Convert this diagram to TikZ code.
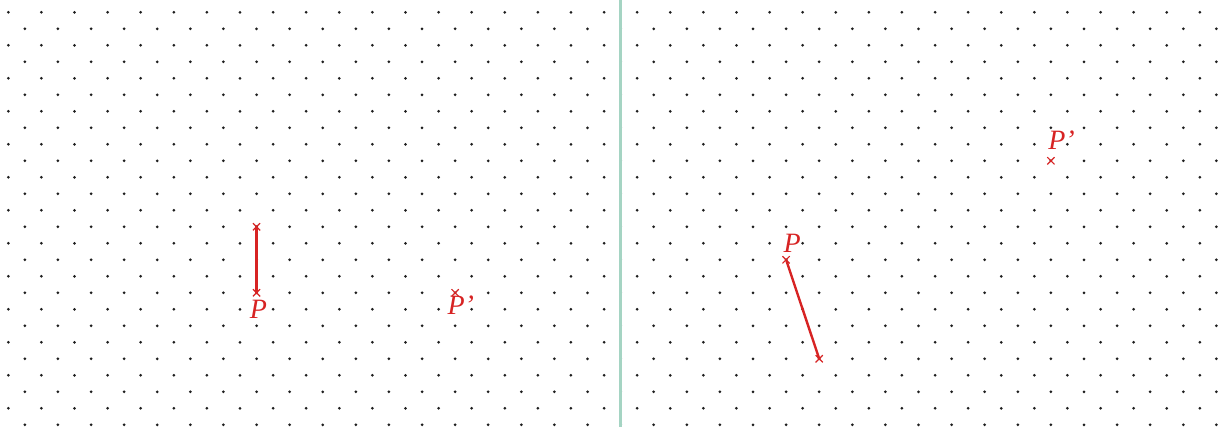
\documentclass[tikz,border=0pt]{standalone}
\usepackage{fontspec}
\setmainfont{Liberation Serif}
\usetikzlibrary{shapes.misc,positioning}
\definecolor{pred}{RGB}{215,35,35}
\definecolor{sepc}{RGB}{165,212,195}
\definecolor{dotc}{RGB}{30,30,30}
\begin{document}
\begin{tikzpicture}[x=8.275pt,y=-8.25pt,
  gdot/.style={fill=dotc, draw=none},
  sepline/.style={draw=sepc, line width=1.3pt},
  seg/.style={draw=pred, line width=1.2pt},
  xmark/.style={cross out, draw=pred, line width=0.6pt, inner sep=0pt, minimum size=3pt},
  lbl/.style={text=pred, inner sep=0pt, font=\fontsize{14}{16}\selectfont\itshape}]
\useasboundingbox (-0.5015,-0.745) rectangle (73.40,25.13);
% dot lattice
\foreach \j in {0,2,...,24} \foreach \i in {0,2,...,72} \fill[gdot] (\i,\j) circle[radius=0.75pt];
\foreach \j in {1,3,...,25} \foreach \i in {1,3,...,73} \fill[gdot] (\i,\j) circle[radius=0.75pt];
% separator
\coordinate (st) at (37,-0.745);
\coordinate (sb) at (37,25.13);
\draw[sepline] (st) -- (sb);
% left panel
\node[xmark] (A1) at (15,13) {};
\node[xmark] (P1) at (15,17) {};
\node[xmark] (Q1) at (27,17) {};
\draw[seg] (A1.center) -- (P1.center);
\node[lbl, below=3.6pt of P1.center, xshift=1pt] (lP1) {P};
\node[lbl, below=1.5pt of Q1.center, xshift=0.5pt] (lQ1) {P\rlap{'}};
% right panel
\node[xmark] (P2) at (47,15) {};
\node[xmark] (A2) at (49,21) {};
\node[xmark] (Q2) at (63,9) {};
\draw[seg] (P2.center) -- (A2.center);
\node[lbl, above=3.2pt of P2.center, xshift=3pt] (lP2) {P};
\node[lbl, above=5.4pt of Q2.center, xshift=3pt] (lQ2) {P\rlap{'}};
\end{tikzpicture}
\end{document}
